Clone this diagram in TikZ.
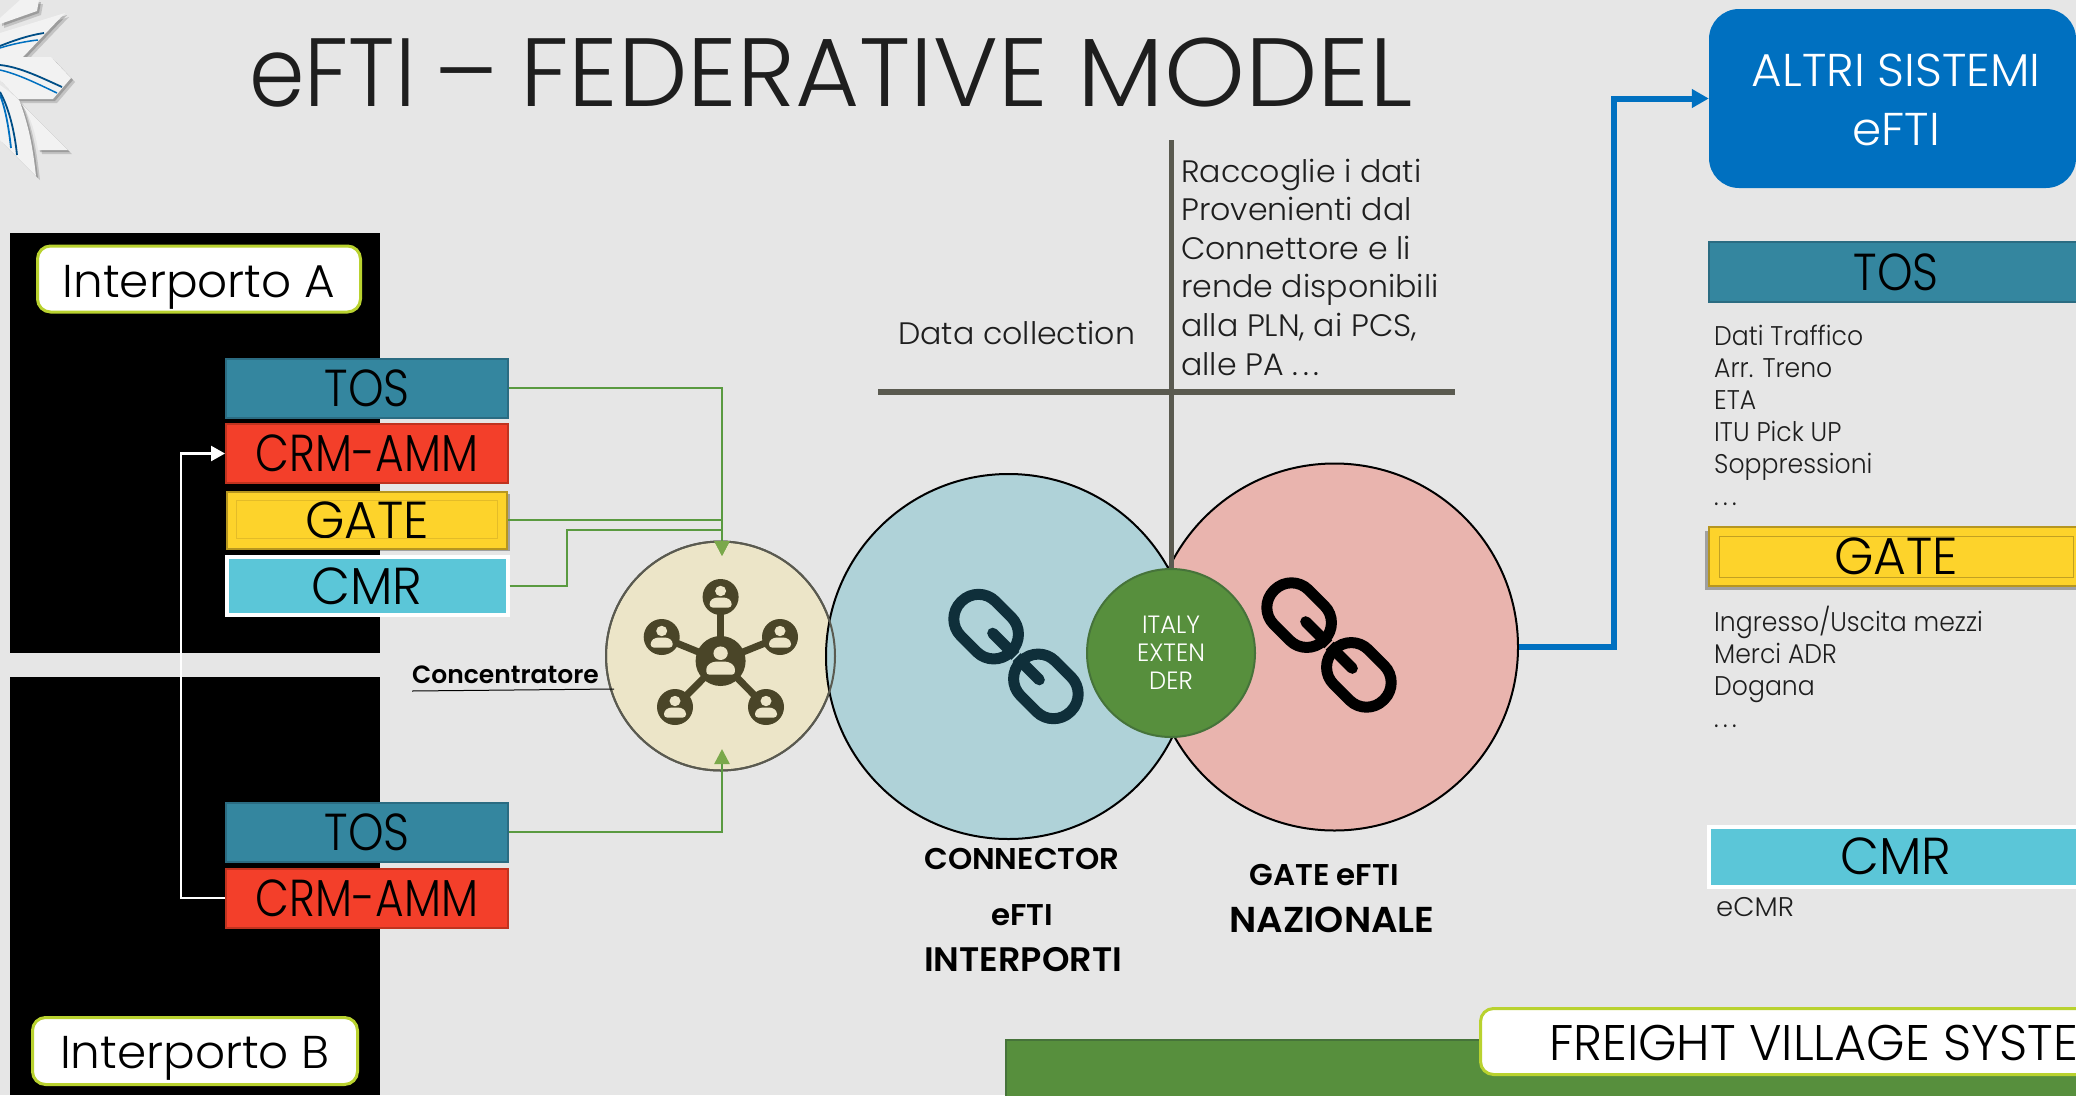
\documentclass[tikz,border=0pt]{standalone}
\usepackage{fontspec}
\usepackage{graphicx}
\usetikzlibrary{arrows.meta,calc}
\setmainfont{Poppins Light}[BoldFont=Poppins SemiBold]
\newfontfamily\cgfont{Poppins Light}[FakeStretch=0.93]
\newfontfamily\cgwide{Poppins Light}[FakeStretch=1.02]
\newfontfamily\cgtitle{Poppins Light}[FakeStretch=1.015]
\newfontfamily\cgtA{Poppins Light}[FakeStretch=0.92]
\newfontfamily\cgtM{Poppins Light}[FakeStretch=1.06]
\newfontfamily\cgbold{Poppins SemiBold}[FakeStretch=1.03]
\newfontfamily\cgboldn{Poppins SemiBold}[FakeStretch=1.0]
\newfontfamily\twa{Poppins Light}[FakeStretch=0.87]
\newfontfamily\twc{Poppins Light}[FakeStretch=0.845]
\newfontfamily\twb{Poppins Light}[FakeStretch=0.97]
\newfontfamily\twf{Poppins Light}[FakeStretch=0.985]
\newcommand{\fsz}[1]{\fontsize{#1}{#1}\selectfont}
\newcommand{\spdots}{.\kern.16em.\kern.16em.}
\definecolor{bgc}{HTML}{E6E6E6}
\definecolor{tosc}{HTML}{34869F}
\definecolor{tose}{HTML}{2B6C82}
\definecolor{crmc}{HTML}{F33F2A}
\definecolor{crme}{HTML}{C0331F}
\definecolor{gatec}{HTML}{FDD32B}
\definecolor{gatee}{HTML}{E4BC28}
\definecolor{cmrc}{HTML}{5BC6D8}
\definecolor{lime}{HTML}{B9D22F}
\definecolor{linkg}{HTML}{5A9A40}
\definecolor{tipg}{HTML}{7AA84A}
\definecolor{darkg}{HTML}{578F3D}
\definecolor{darkge}{HTML}{46733A}
\definecolor{concf}{HTML}{ECE5C8}
\definecolor{conce}{HTML}{5A5A50}
\definecolor{iconc}{HTML}{4A4528}
\definecolor{tealc}{HTML}{AFD2D8}
\definecolor{pinkc}{HTML}{E9B4AE}
\definecolor{chainc}{HTML}{0F2F3A}
\definecolor{bluec}{HTML}{0070C0}
\definecolor{axisc}{HTML}{5A5A50}
\definecolor{txtc}{HTML}{1E1E1E}
\tikzset{
 tagbox/.style={rectangle,minimum height=#1,inner sep=0pt,text=black,font=\twa\fsz{52}},
 tosbox/.style={tagbox=59pt,fill=tosc,draw=tose,line width=2pt},
 crmbox/.style={tagbox=59pt,fill=crmc,draw=crme,line width=2pt,font=\twc\fsz{52}},
 gatebox/.style={tagbox=57pt,fill=gatec,draw=gatee!80!black,line width=2pt,font=\twb\fsz{52}},
 cmrbox/.style={tagbox=58pt,fill=cmrc,draw=white,line width=4pt,font=\twb\fsz{52}},
 labelbox/.style={rectangle,rounded corners=13pt,fill=white,draw=lime,line width=3pt,inner sep=0pt,text=black},
 blist/.style={anchor=base west,align=left,inner sep=0pt,text=txtc,font=\cgfont\fontsize{27}{32}\selectfont},
 bigcap/.style={inner sep=0pt,text=black,font=\cgbold\fsz{30}},
 labeltext/.style={inner sep=0pt,anchor=base,text=black,font=\cgwide\fsz{46}},
 greenline/.style={linkg,line width=2.5pt},
 greenarrow/.style={greenline,-{Triangle[length=15pt,width=15pt,color=tipg]}},
}
% chain icon: x, y, stroke colour, colour of the slit between the links
\newcommand{\chainicon}[4]{%
 \begin{scope}[shift={(#1,#2)},rotate=-45]
  \draw[#3,line width=11pt,rounded corners=24pt] (-77.5,-24.5) rectangle (-7,24.5);
  \draw[#3,line width=11pt,rounded corners=24pt] (7,-24.5) rectangle (77.5,24.5);
  \draw[#3,line width=11pt,line cap=round] (-33,0) -- (33,0);
  \draw[#4,line width=1.6pt] (0,-12) -- (0,12);
 \end{scope}}
\newcommand{\personicon}[4]{%
 \begin{scope}[shift={(#1,#2)},scale=#3]
  \fill[#4] (0,-6) ellipse (5.5 and 5.2);
  \fill[#4,rounded corners=3pt] (-11,10.5) -- (-11,4) -- (-6,0.5) -- (6,0.5) -- (11,4) -- (11,10.5) -- cycle;
 \end{scope}}
\begin{document}
\begin{tikzpicture}[x=1pt,y=-1pt]
\useasboundingbox (0,0) rectangle (2076,1095);
\clip (0,0) rectangle (2076,1095);
\fill[bgc] (0,0) rectangle (2076,1095);

% logo
\begin{scope}
 \foreach \dx/\op in {4/.15,2/.2}{
 \begin{scope}[shift={(\dx,\dx)}]
  \fill[black,opacity=\op] (0,24) -- (37,11) -- (39,0) -- (20,0) -- (0,18) -- cycle;
  \fill[black,opacity=\op] (0,33) -- (65,13) -- (23,57) -- (0,57) -- cycle;
  \fill[black,opacity=\op] (0,57) -- (51,57) -- (71,78) -- (53,99) -- (18,99) -- (0,80) -- cycle;
  \fill[black,opacity=\op] (0,85) .. controls (10,92) and (20,100) .. (20,102) .. controls (30,130) and (33,150) .. (36,176) -- (0,140) -- cycle;
  \fill[black,opacity=\op] (20,102) -- (68,150) -- (38,150) .. controls (35,130) and (30,115) .. (20,102) -- cycle;
 \end{scope}}
 \fill[white!95!black] (0,24) -- (37,11) -- (39,0) -- (20,0) -- (0,18) -- cycle;
 \fill[white!95!black] (0,33) -- (65,13) -- (23,57) -- (0,57) -- cycle;
 \fill[white!95!black] (0,57) -- (51,57) -- (71,78) -- (53,99) -- (18,99) -- (0,80) -- cycle;
 \fill[white!95!black] (0,85) .. controls (10,92) and (20,100) .. (20,102) .. controls (30,130) and (33,150) .. (36,176) -- (0,140) -- cycle;
 \fill[white!95!black] (20,102) -- (68,150) -- (38,150) .. controls (35,130) and (30,115) .. (20,102) -- cycle;
 \draw[bluec!70!black,line width=1.8pt] (0,46) .. controls (15,40) and (30,35) .. (44,33);
 \draw[bluec,line width=1.5pt] (0,48) .. controls (12,44) and (28,41) .. (38,40);
 \draw[bluec!70!black,line width=1.8pt] (0,65) .. controls (20,67) and (42,78) .. (62,87);
 \draw[bluec,line width=1.5pt] (0,70) .. controls (18,74) and (38,84) .. (57,93);
 \draw[bluec,line width=1.8pt] (0,95) .. controls (6,110) and (9,130) .. (11,148);
 \draw[bluec!70!black,line width=1.8pt] (0,92) .. controls (10,110) and (15,135) .. (17,155);
\end{scope}

% title
\node[inner sep=0pt,anchor=base west,text=txtc,font=\cgtitle\fsz{97}] (title) at (249,106) {{\cgtA eFTI}\hspace{-8pt} –\hspace{-5pt} FEDERATIVE\hspace{3pt} {\cgtM MODEL}};

% black panels
\fill[black] (10,233) rectangle (380,653);
\fill[black] (10,677) rectangle (380,1095);

% panel labels
\node[labelbox,minimum width=323pt,minimum height=66pt] (intA) at (199,279) {};
\node[labeltext] (intAT) at (199,297) {Interporto A};
\node[labelbox,minimum width=325pt,minimum height=67pt] (intB) at (195,1051) {};
\node[labeltext] (intBT) at (195,1068) {Interporto B};

% upper boxes
\node[tosbox,minimum width=282pt] (tosA) at (367,388) {TOS};
\node[crmbox,minimum width=282pt] (crmA) at (367,453.5) {CRM-AMM};
\fill[black,opacity=.3] (228,494) rectangle (510,551);
\node[gatebox,minimum width=280pt] (gateA) at (367,520) {GATE};
\draw[gatee] (236,500) rectangle (497,538);
\node[cmrbox,minimum width=281pt] (cmrA) at (367,586) {CMR};

% lower boxes
\node[tosbox,minimum width=282pt] (tosB) at (367,832) {TOS};
\node[crmbox,minimum width=282pt] (crmB) at (367,898) {CRM-AMM};

% white connector
\draw[white,line width=2.5pt,-{Triangle[length=14pt,width=15pt]}] (crmB.west) -- (181,898) |- (crmA.west);

% big circles
\node[circle,minimum size=229pt,inner sep=0pt,fill=concf,draw=conce,line width=2pt] (conc) at (720.5,656) {};
\node[circle,minimum size=365pt,inner sep=0pt,fill=tealc,draw=black,line width=2pt] (connC) at (1008.5,656.5) {};
\draw[conce,line width=2pt] (720.5,656) circle (114.5);
\node[circle,minimum size=367pt,inner sep=0pt,fill=pinkc,draw=black,line width=2pt] (gateC) at (1334.5,647) {};

% connectors into the concentrator
\coordinate (tipA) at (722,556);
\coordinate (tipB) at (722,749);
\coordinate (cmrBend) at (567,530);
\draw[greenarrow] (tosA.east) -| (tipA);
\draw[greenarrow] (gateA.east) -| (tipA);
\draw[greenline] (cmrA.east) -| (cmrBend) -- (tipA |- cmrBend);
\draw[greenarrow] (tosB.east) -| (tipB);

% concentrator icon
\foreach \x/\y in {720.6/597,661.7/637,780/637,675/707,766/707}{
 \draw[iconc,line width=7pt] (720.6,661) -- (\x,\y);
 \fill[iconc] (\x,\y) circle (18);
 \personicon{\x}{\y}{1}{concf}
}
\fill[iconc] (720.6,661) circle (25);
\personicon{720.6}{661}{1.3}{concf}

% concentrator label
\node[inner sep=0pt,anchor=base west,text=black,font=\cgboldn\fsz{25}] (concL) at (412,683) {Concentratore};
\draw[black,line width=1pt] (412,691) -- (614,689);

% chains
\chainicon{1016}{656.5}{chainc}{tealc}
\chainicon{1329}{645}{black}{pinkc}

% axes
\draw[axisc,line width=6pt] (878,392) -- (1455,392);
\coordinate (axisTop) at (1171,140);
\node[circle,minimum size=168pt,inner sep=0pt,fill=darkg,draw=darkge,line width=2pt,text=white,align=center,font=\twb\fontsize{25}{28}\selectfont] (italy) at (1171,653) {ITALY\\EXTEN\\DER};
\draw[axisc,line width=5pt] (axisTop) -- (italy.north);

% axis texts
\node[inner sep=0pt,anchor=base west,text=txtc,font=\cgwide\fsz{31}] (dc) at (898,344) {Data collection};
\node[inner sep=0pt,anchor=north west,align=left,text=txtc,font=\cgwide\fontsize{31}{38.6}\selectfont] (racc) at (1181,158.5) {Raccoglie i dati\\Provenienti dal\\Connettore e li\\rende disponibili\\alla PLN, ai PCS,\\alle PA \spdots};

% captions
\node[bigcap] (c1) at (1022,859) {CONNECTOR};
\node[bigcap] (c2) at (1022,915) {eFTI};
\node[bigcap,font=\cgbold\fsz{34}] (c3) at (1023,960) {INTERPORTI};
\node[bigcap] (g1) at (1324,875) {GATE eFTI};
\node[bigcap,font=\cgbold\fsz{36}] (g2) at (1332,920) {NAZIONALE};

% other systems
\node[rectangle,rounded corners=30pt,fill=bluec,minimum width=367pt,minimum height=179pt,inner sep=0pt] (altri) at (1892.5,98.5) {};
\node[inner sep=0pt,text=white,align=center,font=\cgwide\fontsize{46}{59}\selectfont] (altriT) at (1896,100) {ALTRI SISTEMI\\eFTI};
\coordinate (turn) at (1614,300);
\draw[bluec,line width=6pt,-{Triangle[length=17pt,width=18pt]}] (gateC.east) -| (turn) |- (altri.west);

% right column
\node[tosbox,minimum width=374pt,minimum height=60pt] (tosR) at (1896,272) {TOS};
\node[blist] (tosT) at (1714,505.5) {Dati Traffico\\Arr. Treno\\ETA\\ITU Pick UP\\Soppressioni\\\spdots};
\fill[black,opacity=.3] (1705,531) rectangle (2080,590);
\node[gatebox,minimum width=374pt,minimum height=59pt] (gateR) at (1896,556.5) {GATE};
\draw[gatee!85!black] (1719,536) rectangle (2073,577);
\node[blist] (gateT) at (1714,727) {Ingresso/Uscita mezzi\\Merci ADR\\Dogana\\\spdots};
\node[cmrbox,minimum width=374pt,minimum height=60pt] (cmrR) at (1896,856.5) {CMR};
\node[blist,font=\cgwide\fsz{27}] (cmrT) at (1716,916) {eCMR};

% freight village
\fill[darkg] (1006,1040) rectangle (2090,1100);
\draw[darkge,line width=2pt] (1006,1100) -- (1006,1040) -- (2090,1040);
\node[labelbox,minimum width=640pt,minimum height=66pt,anchor=west] (fvs) at (1479,1041.5) {};
\node[inner sep=0pt,anchor=base west,text=black,font=\twf\fsz{50}] (fvsT) at (1549,1060) {FREIGHT VILLAGE SYSTE};
\end{tikzpicture}
\end{document}
